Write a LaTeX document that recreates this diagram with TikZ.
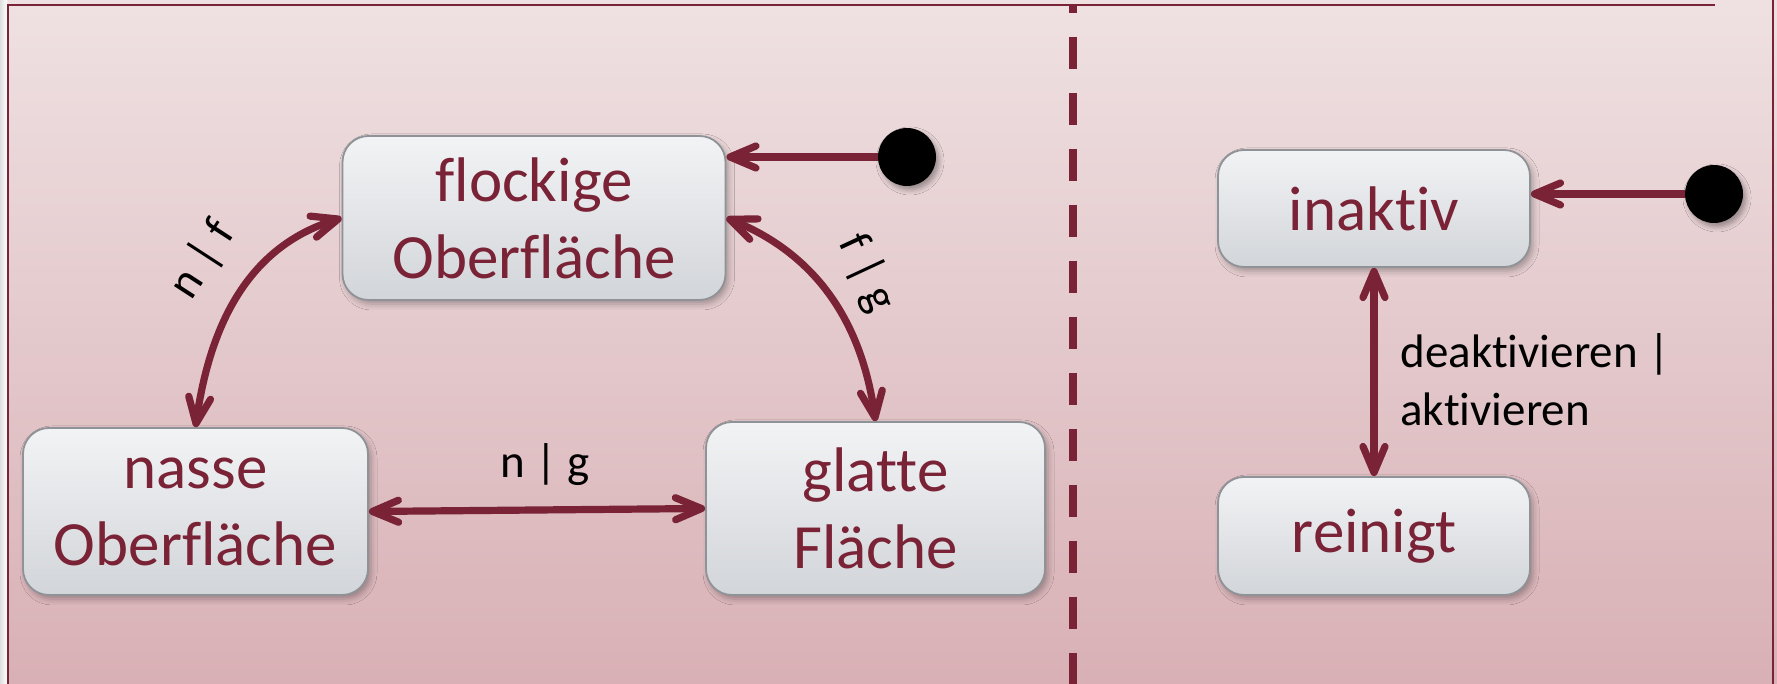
\documentclass[tikz,border=0pt]{standalone}
\usepackage{fontspec}
\setmainfont{Carlito}[Ligatures={NoCommon,NoContextual}]
\usetikzlibrary{arrows.meta,shadows.blur}
\definecolor{wine}{RGB}{122,34,54}
\definecolor{bgtop}{RGB}{239,225,226}
\definecolor{bgbot}{RGB}{216,176,181}
\definecolor{boxtop}{RGB}{242,243,245}
\definecolor{boxbot}{RGB}{210,213,217}
\definecolor{boxline}{RGB}{143,146,150}
\tikzset{
  barb/.tip={Straight Barb[length=13pt,width=11pt,line cap=round,line join=round]},
  state/.style={rectangle, rounded corners=13pt, draw=boxline, line width=0.9pt,
    top color=boxtop, bottom color=boxbot, text=wine,
    font=\fontsize{31.5}{38.5}\selectfont, align=center, inner sep=0pt,
    blur shadow={shadow xshift=1.5pt, shadow yshift=-2pt, shadow blur radius=3pt, shadow opacity=30}},
  initdot/.style={circle, fill=black, minimum size=29pt, inner sep=0pt,
    blur shadow={shadow xshift=1.5pt, shadow yshift=-2pt, shadow blur radius=2.5pt, shadow opacity=35}},
  conn/.style={draw=wine, line width=3.6pt},
  lbl/.style={font=\fontsize{23.5}{29}\selectfont, text=black, inner sep=0pt},
  divider/.style={draw=wine, line width=4pt, dash pattern=on 16pt off 12pt, dash phase=12pt},
  frameline/.style={draw=wine, line width=1pt}
}
\begin{document}
\begin{tikzpicture}[x=0.5pt,y=0.5pt]
  \useasboundingbox (0,0) rectangle (1777,684);
  % background
  \fill[top color=bgtop, bottom color=bgbot] (0,0) rectangle (1777,684);
  \fill[left color=gray!25, right color=white] (0,0) rectangle (7,684);
  % frame
  \draw[frameline] (8,0) -- (8,679) -- (1715,679);
  \draw[frameline] (1773,0) -- (1773,684);
  % region divider
  \coordinate (divtop) at (1073,679);
  \coordinate (divbot) at (1073,0);
  \draw[divider] (divtop) -- (divbot);

  % states
  \node[state, minimum width=191.5pt, minimum height=82pt] (flock) at (534,466) {flockige\\Oberfläche};
  \node[state, minimum width=172.5pt, minimum height=83.5pt] (nasse) at (195.5,172.5) {nasse\\Oberfläche};
  \node[state, minimum width=169.5pt, minimum height=86.5pt] (glatte) at (875.5,175.5) {glatte\\Fläche};
  \node[state, minimum width=156pt, minimum height=58.5pt] (inaktiv) at (1374,475.5) {inaktiv};
  \node[state, minimum width=156pt, minimum height=59pt] (reinigt) at (1374,148) {reinigt};
  \node[initdot] (start1) at (907,527) {};
  \node[initdot] (start2) at (1714,490) {};

  % transitions
  \draw[conn, -{barb}] (start1.west) -- (start1.west -| flock.east);
  \draw[conn, -{barb}] (start2.west) -- (start2.west -| inaktiv.east);
  \draw[conn, {barb}-{barb}] (nasse.east) -- (glatte.west);
  \draw[conn, {barb}-{barb}] (nasse.north) to[out=82,in=197] (flock.west);
  \draw[conn, {barb}-{barb}] (flock.east) to[out=-22,in=98] (glatte.north);
  \draw[conn, {barb}-{barb}] (inaktiv.south) -- (reinigt.north);

  % transition labels
  \node[lbl, rotate=57] (lnf) at (203,424) {n | f};
  \node[lbl, rotate=-65] (lfg) at (867,411) {f | g};
  \node[lbl] (lng) at (545,219) {n | g};
  \node[lbl, anchor=west, align=left] (lda) at (1400,304) {deaktivieren |\\aktivieren};
\end{tikzpicture}
\end{document}
